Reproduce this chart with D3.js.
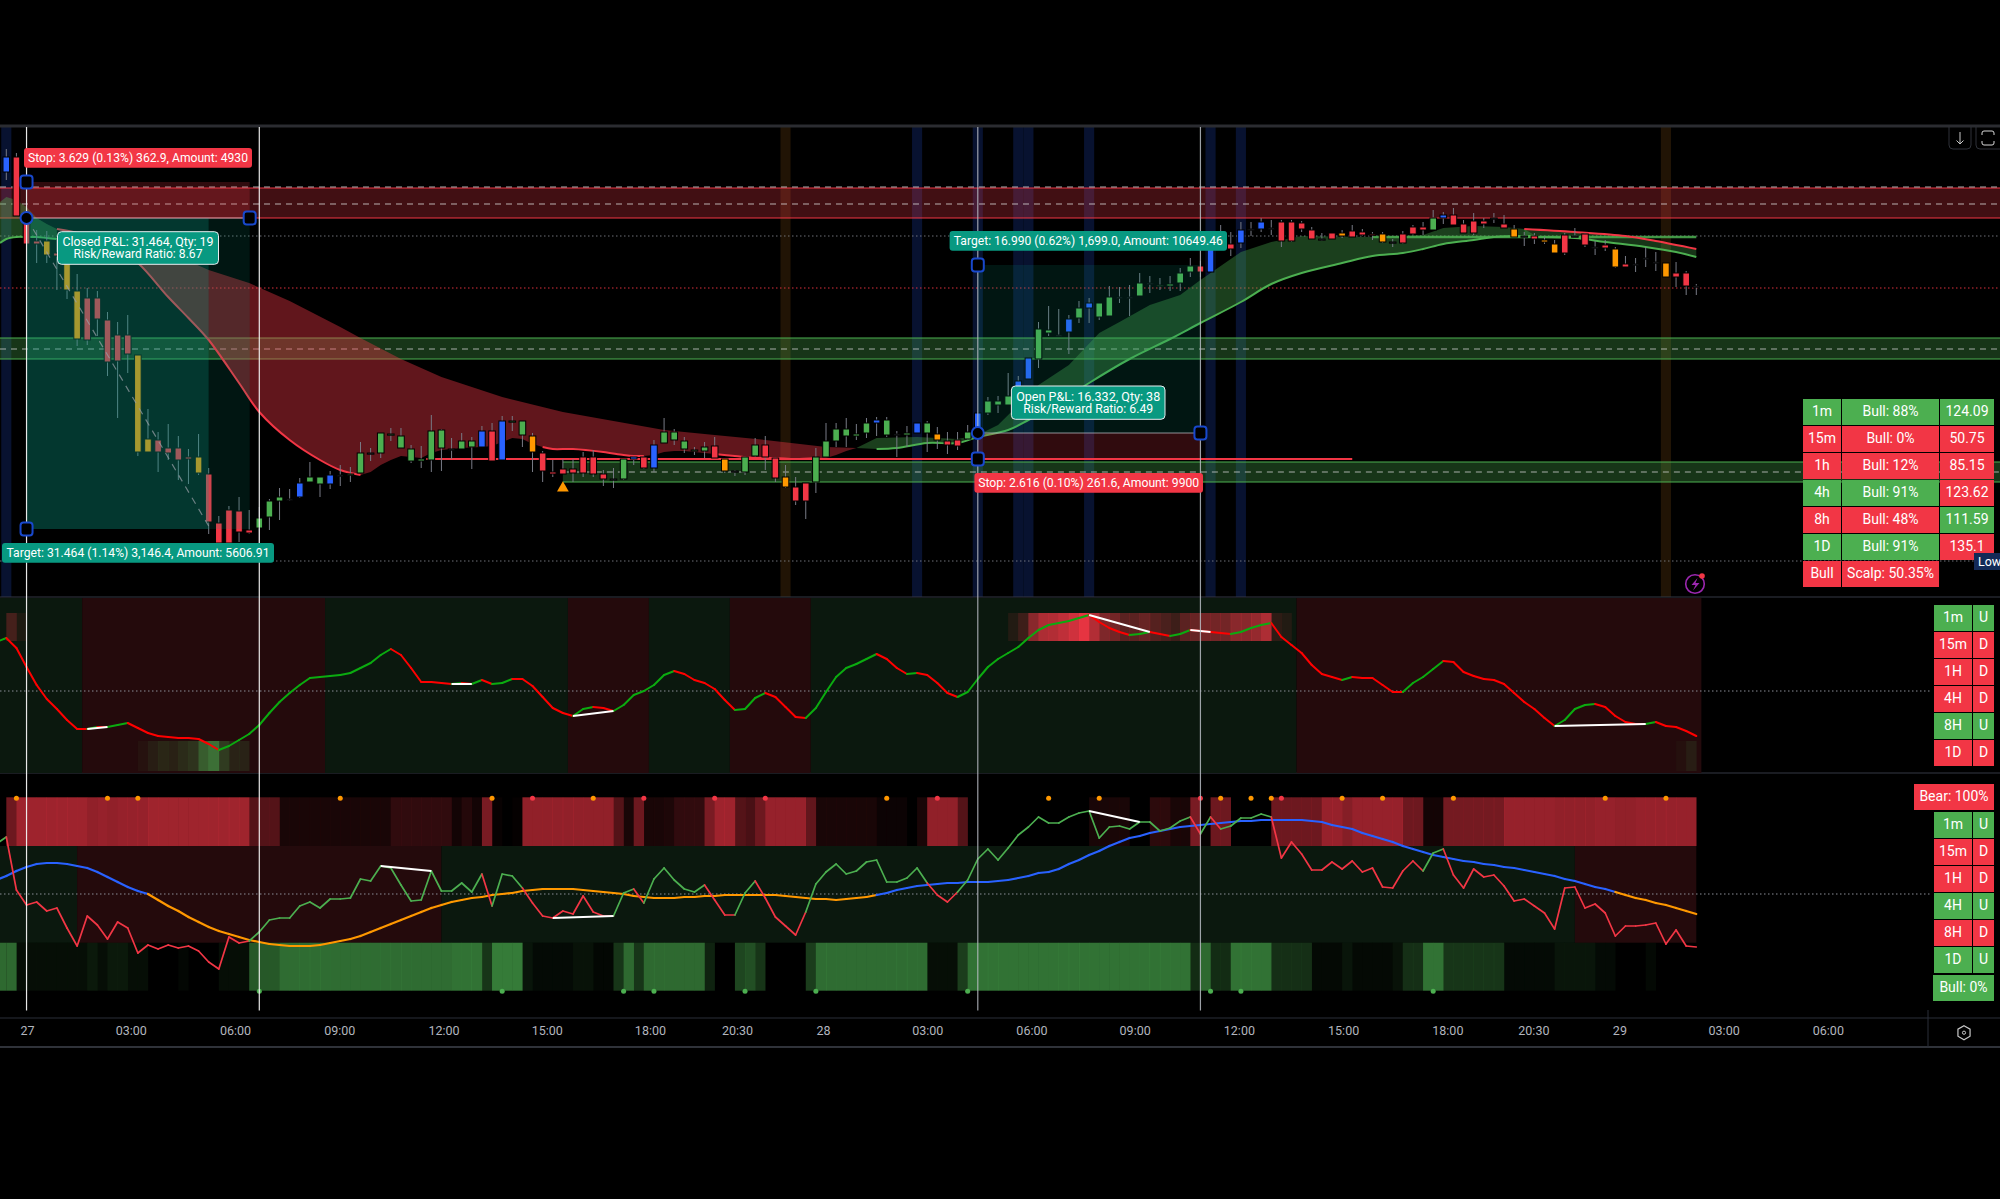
<!DOCTYPE html>
<html><head><meta charset="utf-8">
<style>html,body{margin:0;padding:0;background:#000;overflow:hidden}text{font-family:Roboto,"Liberation Sans",sans-serif}</style>
<script src="https://cdn.jsdelivr.net/npm/d3@7/dist/d3.min.js"></script>
</head><body><svg id="c" width="2000" height="1199"></svg>
<script>
// ---------- candles: one entry per bar ----------
const candleKinds="brrroroorr"+"rrroorrrro"+"rrrrrgggdb"+"ggbdggdggg"+"ggggdggbrb"+"ggorrrrrrr"+"dgbrbggggg"+"rodggrrorr"+"ggggggbgdg"+"bgorrgbggg"+"bbggdbgbgg"+"ddgdggggrb"+"rrbdbdrrrr"+"drorrrodrr"+"rgbrrrrdro"+"droordrdro"+"rdddorrd";
const candleHigh=[2785.1,2784.7,2778.4,2777,2776.9,2776,2775,2772.6,2771.2,2770.9,2768.8,2767.8,2768.5,2764.5,2759.1,2756.8,2757.6,2756.4,2755.1,2756.6,2753.2,2748.4,2749.4,2750.3,2749,2749.3,2750.1,2751.2,2751.1,2752.2,2753.8,2752.3,2752.9,2753.5,2753.3,2755.8,2755.2,2756.7,2757.2,2757.2,2755.5,2755.4,2758.5,2757.1,2756.2,2756.7,2756.3,2757.4,2757.7,2758.4,2758.4,2757.9,2756.7,2754.9,2754,2754.1,2754.1,2754.8,2755,2753,2753.2,2754.1,2754.4,2754.4,2756,2758.2,2757.1,2756.3,2755.3,2755.8,2756.3,2754.1,2753,2754.4,2756.2,2756.4,2754.3,2753.5,2752.3,2751.7,2755.2,2757.7,2757.7,2758.2,2757.6,2758.2,2758.3,2758.3,2756.9,2757.4,2757.7,2757.9,2757.3,2756.8,2756.8,2757.5,2758.7,2760.3,2760.4,2762.7,2762.4,2764.2,2767.8,2769.4,2769.1,2768.5,2769.9,2770.2,2769.7,2771.4,2771.3,2771.5,2772.7,2772.4,2772.2,2772.4,2773.2,2774.2,2773.9,2775.2,2777.5,2776.8,2777.8,2777.8,2778.2,2778,2778,2778,2777.9,2777.3,2776.7,2776.7,2777,2777.5,2777.1,2776.8,2776.8,2776.1,2776.9,2777.5,2777.8,2779,2778.8,2779.2,2778,2778.7,2778.2,2778.7,2778.5,2777.5,2776.8,2776.7,2776.3,2776,2776.7,2777.2,2776.7,2775.9,2776,2775.3,2774.4,2774.2,2775.3,2774.8,2773.7,2773.8,2772.9,2771.6];
const candleBodyTop=[2784.3,2784.3,2778.4,2775.9,2775.9,2774.7,2774.2,2770.9,2770.2,2770.2,2768,2766.5,2766.5,2764.5,2756.1,2756,2755.2,2755.2,2754.3,2754.3,2752.6,2747.7,2749,2748.9,2747,2748.2,2749.9,2750.3,2750.1,2751.7,2752.3,2752.3,2752.5,2752.5,2752.6,2754.7,2754.7,2756.7,2756.6,2756.4,2755.1,2754.1,2756.9,2757,2755.1,2755.9,2755.9,2756.9,2756.9,2757.9,2757.9,2757.9,2756.4,2754.7,2752.8,2753.1,2753.1,2754.3,2754.3,2752.6,2752.1,2754.1,2754.3,2754.3,2755.5,2756.8,2756.8,2755.9,2755,2755.3,2755.4,2754.1,2752.9,2754.3,2755.5,2755.5,2754.2,2752.3,2751.3,2751.7,2754.3,2755.9,2757.1,2757.1,2756.6,2757.7,2758,2758,2756.6,2756.7,2757.7,2757.7,2756.6,2755.9,2756,2756.8,2758.7,2759.9,2759.9,2760.4,2761.9,2764.2,2767.1,2767,2766.5,2768.1,2769.2,2769.7,2769.7,2770.3,2770.3,2770.3,2771.7,2771.7,2771.5,2771.6,2772.7,2773.4,2773.4,2775.1,2776.8,2775.6,2777,2777.1,2777.8,2777.2,2777.8,2777.8,2777.7,2777,2776.1,2776.7,2776.7,2776.9,2776.8,2776.6,2776.6,2775.8,2776.6,2777.3,2777.3,2778.2,2778.5,2778.5,2777.6,2777.9,2777.9,2778.2,2777.6,2777.1,2776.4,2776.4,2776,2775.6,2776.5,2776.4,2776.6,2775.3,2775.5,2775.1,2773.6,2773.6,2774.2,2773.8,2773.7,2772.7,2772.7,2771.4];
const candleBodyBottom=[2782.8,2778.4,2775.6,2775.6,2774.5,2774.4,2771,2766.1,2766,2768.1,2763.8,2763.9,2764.6,2754.8,2754.8,2754.8,2754.7,2754,2754.1,2752.7,2747.8,2745.7,2745.7,2746.8,2746.7,2747.2,2748.3,2749.9,2750,2750.3,2751.8,2751.6,2751.6,2752.5,2752.5,2752.7,2754.7,2754.7,2756.5,2755.2,2753.9,2753.9,2754,2755.2,2755,2755.1,2755.3,2755.3,2753.9,2754,2757.8,2756.5,2754.8,2752.9,2752.6,2752.6,2752.7,2752.7,2752.6,2752.1,2752,2752.1,2754.1,2753.2,2753.2,2755.7,2756,2755.1,2754.9,2754.9,2754.2,2752.9,2752.8,2752.8,2754.4,2754.3,2752.2,2751.3,2749.9,2749.9,2751.8,2754.3,2755.9,2756.4,2756.4,2756.7,2757.7,2756.5,2756.5,2756.5,2756.7,2756.7,2756,2755.5,2755.4,2756.1,2756.8,2758.7,2759.5,2759.5,2760.4,2762.1,2764.1,2766.7,2766.4,2766.8,2768.2,2769.2,2768.3,2768.4,2770.2,2770.2,2770.4,2771.6,2771.4,2771.4,2771.7,2772.8,2772.8,2772.8,2776,2775.1,2775.7,2777,2777.1,2777.1,2775.9,2775.9,2777.1,2776.1,2776,2776.1,2776.4,2776.3,2776.5,2776.5,2775.8,2775.7,2775.7,2776.6,2777,2777,2778.2,2777.5,2776.7,2776.7,2777.6,2778.1,2777.2,2776.3,2776.3,2776.1,2775.8,2774.7,2774.7,2776.3,2775.5,2775.2,2775.2,2773.3,2773.3,2773.5,2774.1,2773.7,2772.3,2772.3,2771.4,2771.3];
const candleLow=[2782,2778.4,2775,2773.7,2773.7,2771,2770.1,2765.4,2765.5,2766.4,2762.4,2758.2,2762.7,2754.4,2754.8,2752.8,2754,2752,2751.6,2752.5,2746.6,2745.5,2745.5,2745.8,2746.6,2745.7,2747,2748,2749.9,2750.2,2751.8,2750.3,2751.1,2751.4,2751.8,2752.7,2753.9,2754.2,2755.9,2755.2,2753.7,2753.2,2752.8,2752.9,2754.1,2755.1,2753.1,2755.3,2753.9,2754,2756.9,2755.3,2752.8,2751.8,2752.3,2752.6,2751.8,2752.3,2752.3,2751.4,2751.2,2752,2753.5,2753.1,2752.8,2755.7,2755.5,2754.7,2754.5,2754.2,2754.2,2752.7,2752.4,2752.5,2754.3,2753,2751.8,2751.2,2749.5,2748.1,2750.7,2754.3,2755.3,2755.3,2756,2756.2,2756.4,2756.3,2754.3,2755.3,2756.7,2754.8,2755.1,2754.6,2755,2756,2756.7,2758.5,2758.7,2759.5,2759.5,2762.1,2763.2,2766.4,2766.4,2764.6,2767.7,2767.7,2768,2768.4,2769.7,2768.4,2770.4,2770.7,2771,2770.9,2770.9,2772.3,2772.3,2772.8,2775,2774.4,2775.2,2776.4,2776.8,2776.5,2775.3,2775.8,2776.8,2776.1,2775.9,2776.1,2776.2,2776.3,2776.4,2776,2775.7,2775.3,2775.6,2776.5,2776.5,2777,2777.6,2777.5,2776.7,2776.5,2777.2,2777.7,2777.2,2776.3,2775.4,2775.6,2775.6,2774.7,2774.5,2776.2,2775.3,2774.5,2774.9,2773.2,2773.3,2772.8,2773.3,2772.9,2772.3,2771.3,2770.5,2770.5];
// ---------- ribbons ----------
const earlyTopBars=[-0.62,0,1,2,3,4,5],earlyTop=[2779.8,2780.3,2780,2779.3,2778.2,2777.6,2777.1];
const earlyLowBars=[-0.62,0,1,2,3,4,5],earlyLow=[2775.7,2776.1,2776.3,2776.3,2776.3,2776.2,2776.1];
const redTopBars=[5,8,12,16,20,24,28,33,35,39,43,49,55,60,65,70,75,81,84];
const redTop=[2777.1,2776.7,2775.9,2774.8,2773,2771.7,2769.9,2767.3,2766.2,2764.1,2762.3,2760.3,2758.8,2757.9,2757,2756.5,2756,2755.3,2755.2];
const redLowBars=[5,7,9,11,13,16,18,20,23,25,28,31,33,35,36,37,38,39,40,41,42,43,45,47,48,49,50,51,52,53,54,56,59,61,62,63,64,65,66,67,68,70,72,74,76,78,80,81,82,83,84];
const redLow=[2777.1,2776.7,2776,2775,2773.7,2770.3,2768.2,2766,2761.7,2758.8,2756,2754,2753,2752.5,2752.8,2753.5,2754,2754.4,2754.3,2754.2,2754.7,2755,2755.2,2755.3,2755.4,2755.8,2756.2,2756.1,2755.6,2755.3,2755.1,2755.1,2754.8,2754.5,2754.4,2754.4,2754.5,2754.8,2754.9,2754.9,2754.8,2754.6,2754.4,2754.2,2754.2,2754.1,2754.2,2754.2,2754.5,2754.9,2755.2];
const redStrokeRanges=[[5,35],[53,63],[70,80]];
const greenTopBars=[84,86,90,94,96,98,100,102,105,108,110,113,116,118,122,125,128,135,140,142,145,148,150,151];
const greenTop=[2755.2,2756.2,2756.3,2756.1,2756.5,2757.5,2759.5,2761.5,2763.5,2766.7,2767.8,2769.5,2770.5,2772,2774.8,2775.8,2776.4,2776.3,2776.5,2777.2,2777.4,2777.3,2777.1,2776.5];
const greenLowBars=[84,86,88,91,94,96,99,101,104,107,111,115,118,122,125,128,132,135,138,140,142,145,147,151];
const greenLow=[2755.2,2755.1,2755.2,2755.7,2755.7,2756.3,2757,2758,2759.7,2761.7,2764.1,2766.1,2767.7,2769.8,2771.6,2772.7,2773.7,2774.4,2774.7,2775.1,2775.6,2776,2776.3,2776.4];
const tailTopBars=[150,155,160,163,167],tailTop=[2777.1,2776.8,2776.4,2775.9,2775.1];
const tailLowBars=[150,155,158,162,165,167],tailLow=[2776.3,2776.2,2775.8,2775.3,2774.8,2774.3];
// ---------- session columns ----------
const blueSessionBars=[0,90,96,100,101,107,119,122];
const orangeSessionBars=[77,164];
// ---------- price levels ----------
const redZone={top:2781.2,bottom:2778.2,dashes:[2781.3,2779.6]};
const greenZone={top:2766.2,bottom:2764.1,dash:2765.1};
const lowZone={top:2753.8,bottom:2751.8,dash:2752.8,startBar:55};
const stopLevel={price:2754.1,from:41.5,to:133};
const flatLevel={price:2776.3,from:135,to:167};
const dottedGray=[2776.4,2743.9],dottedRed=[2771.2];
// ---------- RSI pane ----------
const rsi=[76.5,71.5,62,53,46,41,35.5,31,31,32,32,33,34,31.5,29,27.5,27,26.5,26.5,26,23.5,20.5,22.5,25.5,28.5,33,39,44.5,49,53,56.5,57,57.5,58,59,61.5,64,68,71,68,61.5,54.5,54.5,54,53.5,54,53.5,55.5,53.5,54,56,56,52.5,47,41.5,39,37.5,41,42,41.5,40,43,48,50,53,58,60,58.5,55.5,54,51,45.5,40.5,41,46.5,49,47,42,37,36.5,41.5,49.5,57,61.5,63.5,66,68.5,66,61.5,58.5,59,58,54,49,47,49.5,56,62,66,69,72,76.5,80.5,83,84,85,86.5,88,84.5,81.5,79.5,78,78.5,79.5,78.5,77.5,78.5,80.5,80,79.5,79,78.5,79.5,81.5,83,84,77,73,69,63,58.5,57,55.5,57,56.5,56.5,53,49.5,49.5,54,57,61,65,64.5,59.5,57.5,56,55.5,53.5,49,44.5,41,36.5,32.5,35.5,41,43,43.5,42,37.5,34.5,33.5,33.5,34.5,32.5,32,30,27.5];
const rsiLead=74.5;
const rsiFlips=[8,32,56,64,72,80,128,168];           // regime alternates green, red, ...
const rsiDivergences=[[8,10],[44,46],[56,60],[107,113],[117,119],[153,162]];
const heatLowBars=[13,14,15,16,17,18,19,20,21,22,23,24],heatLow=[5,12,17,14,20,25,50,62,30,15,15,0];
const heatTopStart=99;
const heatTop=[10,22,55,70,72,78,85,95,72,50,45,35,35,40,32,28,22,35,40,45,45,45,55,55,60,70,15,10];
const heatEdgeBars=[0,1],heatEdge=[25,8];
const heatTailBars=[165,166],heatTail=[4,12];
// ---------- wave pane ----------
const wave=[28.5,2,-5.5,-4,-8.5,-7,-17,-26,-11,-15.5,-22.5,-14,-17,-29.5,-25.5,-27.5,-25.5,-27,-26,-28.5,-34,-37.5,-21.5,-24.5,-23.5,-19,-13,-12,-12,-6,-4,-7,-2.5,-2.5,-2,7.5,6.5,14,13,4.5,-3.5,-3,11.5,1.5,1.5,5.5,1,10,-6,10,9,3,-4.5,-11,-12,-8.5,-10,-1,-9,-11,-11,0.5,2.5,-4.5,7.5,13,7,2.5,1,4.5,-3,-10.5,-10.5,0.5,6.5,-2,-11.5,-16,-20.5,-9,5,11,15,10,11.5,16,17,6,6,8,13,5.5,-0.5,-4,1,7,17.5,22.5,17,23,29.5,33.5,38.5,35.5,35.5,38.5,40.5,41.5,28,33.5,34,32.5,36,36,31.5,33,36.5,38.5,30,38.5,32.5,34,38,38,40,38.5,18,26,20,12,12,16,12.5,16.5,11,13,3.5,3,11.5,16.5,11.5,20.5,22.5,9.5,3,12.5,8.5,9.5,4,-3.5,-2.5,-6,-9.5,-17.5,3,3.5,-7,-5,-9.5,-21,-16,-16,-15.5,-14.5,-25,-18,-26,-26.5];
const waveLead=25;
const waveFlips=[0,24,47,48,51,60,62,63,69,72,74,79,91,94,117,118,119,120,125,140,142]; // starts red, alternates
const waveSlow=[9,11.5,13.5,15,15.5,15.5,15,14,13,11,8.5,6,3.5,1.5,0,-3,-6,-8.5,-11.5,-14,-16.5,-18.5,-20,-21.5,-23,-24,-25,-25.5,-26,-26,-26,-25.5,-24.5,-23.5,-22.5,-21,-19,-17,-15,-13,-11,-9,-7,-5.5,-4,-3,-2,-1.5,-0.5,0,0.5,1.5,2,2.5,2.5,2.5,2.5,2,1.5,1,0.5,0,-1,-1.5,-2,-2,-2,-1.5,-1.5,-1,-1,-0.5,-0.5,-0.5,-0.5,-0.5,-0.5,-1,-1.5,-2,-2.5,-2.5,-3,-2.5,-2,-1.5,-0.5,0.5,2,3,4,4.5,5,5.5,5.5,6,6,6,6.5,7,8,9,10.5,11,12.5,15,17,19.5,21.5,24,26,28,29,30.5,31.5,32.5,33.5,34,34.5,35,35.5,36,36.5,36.5,37,37,37,37,37,36.5,36,34.5,33.5,32.5,30.5,29,27.5,26,24,22.5,21,19.5,18.5,17.5,16.5,16,15,14.5,13.5,13,12,11,10,9,7.5,6.5,5,3.5,2.5,1,-0.5,-2,-3,-4.5,-5.5,-7,-8.5,-10];
const slowLead=7;
const slowFlips=[14,86,159];                         // starts blue, alternates
const waveBandFlips=[7,43,155,167];                  // starts green, alternates
const waveDivergences=[[37,42],[54,60],[107,112]];
const bearHeat=[45,65,65,65,65,65,65,65,60,62,60,62,62,62,66,66,66,66,66,66,66,66,66,66,35,35,35,10,10,10,10,10,10,10,10,10,10,10,20,20,20,20,20,20,8,15,8,50,3,0,2,60,60,60,60,60,60,60,60,60,35,10,45,10,10,12,20,20,20,50,65,65,35,30,45,62,62,62,62,40,10,10,10,10,10,10,5,5,5,0,10,60,60,60,35,0,0,0,0,0,0,0,0,0,0,0,0,10,10,10,10,0,0,18,18,10,10,50,2,45,45,0,0,0,0,45,45,45,45,45,62,62,55,62,62,62,62,62,45,45,8,8,48,48,48,48,48,48,62,62,62,62,62,60,60,60,60,62,62,60,60,62,62,62,62,62,62,62];
const bullHeatLead=60;
const bullHeat=[60,8,8,8,8,8,8,8,14,8,14,14,8,8,0,0,0,4,0,0,0,8,8,8,50,50,50,62,62,62,62,62,62,62,62,62,62,62,62,62,62,62,62,62,65,65,65,30,70,70,70,12,6,6,6,6,10,10,4,4,30,60,30,60,60,60,60,60,60,20,0,0,40,45,30,0,0,0,0,35,62,62,62,62,62,62,62,62,62,62,62,8,8,8,35,65,65,65,65,65,65,65,65,65,65,65,65,65,65,65,65,65,65,65,65,65,65,25,60,25,25,65,65,65,65,27,27,27,27,5,5,5,12,5,5,5,5,10,27,27,65,65,30,30,30,30,30,30,6,6,6,6,6,12,12,12,12,6,6,0,0,0,5,0,0,0,0,0];
const orangeDotBars=[1,10,13,33,48,58,87,103,108,120,123,125,132,136,143,158,164];
const redDotBars=[52,63,70,75,92,118,126];
const greenDotBars=[25,49,61,64,73,80,95,119,122,141];
// ---------- positions ----------
const positionBars={first:[2,25],firstMid:20,second:[96,118],firstRight:24.05};
const firstTrade={stop:2781.8,entry:2778.2,target:2747.1};
const secondTrade={stop:2754.1,entry:2756.7,target:2773.5};
const markerLines=[2,25,96,118];
const tradeArrow={bars:[2,20],prices:[2778.2,2747.4]};
const triangleBar=55,trianglePrice=2751.2;
// ---------- axis ----------
const tickBars=[2.05,12.3,22.6,32.9,43.2,53.4,63.6,72.2,80.7,91,101.3,111.5,121.8,132.1,142.4,150.9,159.4,169.7,180];
const tickLabels=["27","03:00","06:00","09:00","12:00","15:00","18:00","20:30","28","03:00","06:00","09:00","12:00","15:00","18:00","20:30","29","03:00","06:00"];
// ---------- tables ----------
const summaryRows=[["1m","Bull: 88%","124.09"],["15m","Bull: 0%","50.75"],["1h","Bull: 12%","85.15"],["4h","Bull: 91%","123.62"],["8h","Bull: 48%","111.59"],["1D","Bull: 91%","135.1"],["Bull","Scalp: 50.35%",""]];
const summaryColors=["ggg","rrr","rrr","ggr","rrg","ggr","rr-"];
const rsiTable=[["1m","U"],["15m","D"],["1H","D"],["4H","D"],["8H","U"],["1D","D"]];
const waveTable=[["1m","U"],["15m","D"],["1H","D"],["4H","U"],["8H","D"],["1D","U"]];

// ---------- drawing ----------
const GREEN="#4caf50",RED="#f23645",BLUE="#2962ff",ORANGE="#ff9800",TEAL="#089981";
const kindColor={g:GREEN,r:RED,b:BLUE,o:ORANGE,d:"#555964"};
const W=2000;
const svg=d3.select("#c");
svg.append("rect").attr("width",W).attr("height",1199).attr("fill","#000");
const x=d3.scaleLinear().domain([0,167]).range([6.3,1696.3]);
const bw=10.12;
const y=d3.scaleLinear().domain([2787.3,2740.3]).range([127,597]);
const yR=d3.scaleLinear().domain([97,9]).range([597,773]);
const yW=d3.scaleLinear().domain([60.5,-58]).range([773,1010]);

// session columns
const gs=svg.append("g");
gs.selectAll(".bs").data(blueSessionBars).join("rect").attr("class","bs").attr("x",d=>x(d)-bw/2).attr("width",bw).attr("y",127).attr("height",470).attr("fill","#081230");
gs.selectAll(".os").data(orangeSessionBars).join("rect").attr("class","os").attr("x",d=>x(d)-bw/2).attr("width",bw).attr("y",127).attr("height",470).attr("fill","#211405");

// horizontal zones
const hg=svg.append("g");
function hline(p,stroke,dash,w,op,x0,x1){hg.append("line").attr("x1",x0==null?0:x0).attr("x2",x1==null?W:x1).attr("y1",y(p)).attr("y2",y(p)).attr("stroke",stroke).attr("stroke-width",w||1).attr("stroke-dasharray",dash||null).attr("opacity",op==null?1:op);}
dottedGray.forEach(p=>hline(p,"#8a8d96","1.5 2.5",1,.8));
dottedRed.forEach(p=>hline(p,RED,"1.5 2.5",1,.9));
hg.append("rect").attr("x",0).attr("width",W).attr("y",y(redZone.top)).attr("height",y(redZone.bottom)-y(redZone.top)).attr("fill",RED).attr("opacity",.27);
hg.append("rect").attr("x",0).attr("width",W).attr("y",y(greenZone.top)).attr("height",y(greenZone.bottom)-y(greenZone.top)).attr("fill",GREEN).attr("opacity",.3);
hg.append("rect").attr("x",x(lowZone.startBar)).attr("width",W-x(lowZone.startBar)).attr("y",y(lowZone.top)).attr("height",y(lowZone.bottom)-y(lowZone.top)).attr("fill",GREEN).attr("opacity",.3);
hline(redZone.top,RED,null,1.2);hline(redZone.bottom,RED,null,1.2);
redZone.dashes.forEach(p=>hline(p,"#d8d8d8","6 5",1,.8));
hline(greenZone.top,GREEN,null,1.2);hline(greenZone.bottom,GREEN,null,1.2);hline(greenZone.dash,"#d8d8d8","6 5",1,.75);
hline(lowZone.top,GREEN,null,1.2,1,x(lowZone.startBar));hline(lowZone.bottom,GREEN,null,1.2,1,x(lowZone.startBar));hline(lowZone.dash,"#d8d8d8","6 5",1,.75,x(lowZone.startBar));

// ribbons
const pts=(b,v)=>b.map((d,i)=>[d,v[i]]);
const ln=d3.line().x(d=>x(d[0])).y(d=>y(d[1])).curve(d3.curveCatmullRom.alpha(.5));
const band=(t,l)=>ln.curve(d3.curveLinear)(t.concat(l.slice().reverse()))+"Z";
const rg=svg.append("g");
function ribbon(tb,t,lb,l,col,op){rg.append("path").attr("d",band(pts(tb,t),pts(lb,l))).attr("fill",col).attr("opacity",op);}
ribbon(earlyTopBars,earlyTop,earlyLowBars,earlyLow,GREEN,.38);
ribbon(redTopBars,redTop,redLowBars,redLow,RED,.4);
ribbon(greenTopBars,greenTop,greenLowBars,greenLow,GREEN,.36);
ribbon(tailTopBars,tailTop,tailLowBars,tailLow,GREEN,.3);
ln.curve(d3.curveCatmullRom.alpha(.5));
function stroke(p,col,w,op){rg.append("path").attr("d",ln(p)).attr("fill","none").attr("stroke",col).attr("stroke-width",w).attr("opacity",op==null?1:op);}
stroke(pts(earlyLowBars,earlyLow),GREEN,2);
redStrokeRanges.forEach(r=>stroke(pts(redLowBars,redLow).filter(d=>d[0]>=r[0]&&d[0]<=r[1]),RED,2));
stroke(pts(greenLowBars,greenLow).filter(d=>d[0]>=86),GREEN,2);
rg.append("line").attr("x1",x(stopLevel.from)).attr("x2",x(stopLevel.to)).attr("y1",y(stopLevel.price)).attr("y2",y(stopLevel.price)).attr("stroke",RED).attr("stroke-width",2.2);
rg.append("line").attr("x1",x(flatLevel.from)).attr("x2",x(flatLevel.to)).attr("y1",y(flatLevel.price)).attr("y2",y(flatLevel.price)).attr("stroke",GREEN).attr("stroke-width",2.4).attr("opacity",.85);
stroke(pts(tailLowBars,tailLow),GREEN,2);
stroke(pts(tailTopBars,tailTop),RED,2);

// candles
const bars=d3.range(candleHigh.length);
const cg=svg.append("g");
cg.selectAll("line").data(bars).join("line").attr("x1",i=>x(i)).attr("x2",i=>x(i)).attr("y1",i=>y(candleHigh[i])).attr("y2",i=>y(candleLow[i])).attr("stroke","#787b86").attr("stroke-width",1);
cg.selectAll("rect").data(bars).join("rect").attr("x",i=>x(i)-3.3).attr("width",6.6)
  .attr("y",i=>y(candleBodyTop[i])).attr("height",i=>Math.max(1.2,y(candleBodyBottom[i])-y(candleBodyTop[i])))
  .attr("fill",i=>kindColor[candleKinds[i]]).attr("stroke","#000").attr("stroke-width",1);

// triangle
svg.append("path").attr("d",d3.symbol().type(d3.symbolTriangle).size(60)()).attr("transform",`translate(${x(triangleBar)},${y(trianglePrice)})`).attr("fill",ORANGE);

// position boxes
const bg=svg.append("g");
function box(a,b,t,l,col,op){bg.append("rect").attr("x",x(a)).attr("width",x(b)-x(a)).attr("y",y(t)).attr("height",y(l)-y(t)).attr("fill",col).attr("opacity",op);}
const [f0,f1]=positionBars.first;const fEnd=positionBars.firstRight;
box(f0,fEnd,firstTrade.stop,firstTrade.entry,RED,.2);
box(f0,positionBars.firstMid,firstTrade.entry,firstTrade.target,TEAL,.36);
box(positionBars.firstMid,fEnd,firstTrade.entry,firstTrade.target,TEAL,.14);
const [s0,s1]=positionBars.second;
box(s0,s1,secondTrade.target,secondTrade.entry,TEAL,.14);
box(s0,s1,secondTrade.entry,secondTrade.stop,RED,.2);
[[f0,fEnd,firstTrade.entry],[s0,s1,secondTrade.entry]].forEach(d=>bg.append("line").attr("x1",x(d[0])).attr("x2",x(d[1])).attr("y1",y(d[2])).attr("y2",y(d[2])).attr("stroke","#b9bcc4").attr("stroke-width",1.2).attr("opacity",.75));
bg.append("line").attr("x1",x(tradeArrow.bars[0])).attr("x2",x(tradeArrow.bars[1])).attr("y1",y(tradeArrow.prices[0])).attr("y2",y(tradeArrow.prices[1])).attr("stroke","#9aa0a8").attr("stroke-dasharray","7 6").attr("stroke-width",1.2).attr("opacity",.7);

// pane separators
[[126,3,"#2b2c31"],[597,1,"#343844"],[773,1,"#343844"],[1018,1,"#2a2e39"],[1047,2,"#2f3239"]].forEach(d=>svg.append("line").attr("x1",0).attr("x2",W).attr("y1",d[0]).attr("y2",d[0]).attr("stroke",d[2]).attr("stroke-width",d[1]));
svg.append("line").attr("x1",1928).attr("x2",1928).attr("y1",1010).attr("y2",1047).attr("stroke","#2a2e39");

// RSI pane
const rp=svg.append("g");
const regimes=(flips,start)=>flips.map((f,i)=>({a:i?flips[i-1]:null,b:f,c:(i%2===0)===(start==="g")?"#0b180e":"#240a0c"}));
regimes(rsiFlips,"g").forEach(r=>{const a=r.a==null?0:x(r.a)-bw/2,b=x(r.b)-bw/2;rp.append("rect").attr("x",a).attr("width",b-a).attr("y",598).attr("height",175).attr("fill",r.c);});
const heatCols=(g,bs,vals,col,t,b)=>g.selectAll(null).data(bs).join("rect").attr("x",d=>x(d)).attr("width",bw+.3).attr("y",t).attr("height",b-t).attr("fill",col).attr("opacity",(d,i)=>vals[i]/100);
heatCols(rp,heatLowBars,heatLow,GREEN,yR(25),yR(10));
heatCols(rp,heatTop.map((d,i)=>heatTopStart+i),heatTop,RED,yR(89),yR(75));
heatCols(rp,heatEdgeBars,heatEdge,RED,yR(89),yR(75));
heatCols(rp,heatTailBars,heatTail,GREEN,yR(25),yR(10));
rp.append("line").attr("x1",0).attr("x2",1930).attr("y1",yR(50)).attr("y2",yR(50)).attr("stroke","#8a8d96").attr("stroke-dasharray","1.5 2.5");
const rsiSeries=[rsiLead].concat(rsi);
rp.selectAll(null).data(d3.range(rsiSeries.length-1)).join("line").attr("x1",i=>x(i-1)).attr("x2",i=>x(i)).attr("y1",i=>yR(rsiSeries[i])).attr("y2",i=>yR(rsiSeries[i+1])).attr("stroke",i=>rsiSeries[i+1]>rsiSeries[i]?"#0bab10":"#ff0000").attr("stroke-width",2).attr("stroke-linecap","round");
rp.selectAll(null).data(rsiDivergences).join("line").attr("x1",d=>x(d[0])).attr("x2",d=>x(d[1])).attr("y1",d=>yR(rsi[d[0]])).attr("y2",d=>yR(rsi[d[1]])).attr("stroke","#fff").attr("stroke-width",2);

// wave pane
const wp=svg.append("g");
const waveBandTop=846,waveBandBottom=942.7;
regimes(waveBandFlips,"g").forEach(r=>{const a=r.a==null?0:x(r.a),b=x(r.b);wp.append("rect").attr("x",a).attr("width",b-a).attr("y",waveBandTop).attr("height",waveBandBottom-waveBandTop).attr("fill",r.c);});
const heatRow=(vals,col,t,b)=>wp.selectAll(null).data(vals.map((v,i)=>[i,v]).slice(0,167)).join("rect").attr("x",d=>x(d[0])).attr("width",bw+.2).attr("y",t).attr("height",b-t).attr("fill",col).attr("opacity",d=>d[1]/100);
heatRow(bearHeat,RED,797.3,waveBandTop);
heatRow(bullHeat,GREEN,waveBandBottom,990.7);
wp.append("rect").attr("x",0).attr("width",x(0)).attr("y",waveBandBottom).attr("height",990.7-waveBandBottom).attr("fill",GREEN).attr("opacity",bullHeatLead/100);
wp.append("line").attr("x1",0).attr("x2",1930).attr("y1",yW(0)).attr("y2",yW(0)).attr("stroke","#8a8d96").attr("stroke-dasharray","1.5 2.5");
const stateAt=(flips,i)=>{let n=0;flips.forEach(f=>{if(i>=f)n++;});return n;};
const slowSeries=[slowLead].concat(waveSlow);
wp.selectAll(null).data(d3.range(slowSeries.length-1)).join("line").attr("x1",i=>x(i-1)).attr("x2",i=>x(i)).attr("y1",i=>yW(slowSeries[i])).attr("y2",i=>yW(slowSeries[i+1])).attr("stroke",i=>stateAt(slowFlips,i-1)%2===0?BLUE:ORANGE).attr("stroke-width",2.2).attr("stroke-linecap","round");
const waveSeries=[waveLead].concat(wave);
wp.selectAll(null).data(d3.range(waveSeries.length-1)).join("line").attr("x1",i=>x(i-1)).attr("x2",i=>x(i)).attr("y1",i=>yW(waveSeries[i])).attr("y2",i=>yW(waveSeries[i+1])).attr("stroke",i=>stateAt(waveFlips,i-1)%2===1?RED:GREEN).attr("stroke-width",1.7).attr("stroke-linecap","round");
wp.selectAll(null).data(waveDivergences).join("line").attr("x1",d=>x(d[0])).attr("x2",d=>x(d[1])).attr("y1",d=>yW(wave[d[0]])).attr("y2",d=>yW(wave[d[1]])).attr("stroke","#fff").attr("stroke-width",2);
const dots=(b,c,cy)=>wp.selectAll(null).data(b).join("circle").attr("cx",d=>x(d)).attr("cy",cy).attr("r",2.5).attr("fill",c);
dots(orangeDotBars,ORANGE,798.3);dots(redDotBars,RED,798.3);dots(greenDotBars,GREEN,991.3);

// marker lines
svg.selectAll(null).data(markerLines).join("line").attr("x1",d=>x(d)).attr("x2",d=>x(d)).attr("y1",127).attr("y2",1010.5).attr("stroke",(d,i)=>i<2?"#f4f4f4":"#b8bcc4").attr("stroke-width",1.2).attr("opacity",(d,i)=>i<2?.95:.85);

// handles
const hand=svg.append("g");
function square(cx,cy){hand.append("rect").attr("x",cx-6).attr("y",cy-6.5).attr("width",12).attr("height",13).attr("rx",3).attr("fill","#000").attr("stroke","#1848cc").attr("stroke-width",2);}
function round(cx,cy){hand.append("circle").attr("cx",cx).attr("cy",cy).attr("r",6).attr("fill","#000").attr("stroke","#1848cc").attr("stroke-width",2);}
square(x(f0),y(firstTrade.stop));round(x(f0),y(firstTrade.entry));square(x(fEnd),y(firstTrade.entry));square(x(f0),y(firstTrade.target));
square(x(s0),y(secondTrade.target));round(x(s0),y(secondTrade.entry));square(x(s1),y(secondTrade.entry));square(x(s0),y(secondTrade.stop));

// labels
function tag(x0,x1,y0,y1,fill,lines,border,fs,widths){
  const g=svg.append("g");
  g.append("rect").attr("x",x0).attr("y",y0).attr("width",x1-x0).attr("height",y1-y0).attr("rx",border?4:3).attr("fill",fill).attr("stroke",border?"#e8ecef":null).attr("stroke-width",border?1:null);
  lines.forEach((t,i)=>{const cy=(y0+y1)/2+(i-(lines.length-1)/2)*12-.5;
    const e=g.append("text").attr("x",(x0+x1)/2).attr("y",cy).attr("text-anchor","middle").attr("dominant-baseline","central").attr("fill","#fff").attr("font-size",fs||13).text(t);
    if(widths&&widths[i])e.attr("textLength",widths[i]).attr("lengthAdjust","spacingAndGlyphs");});
}
tag(24,252,148,167.7,RED,["Stop: 3.629 (0.13%) 362.9, Amount: 4930"],false,13,[220]);
tag(57.5,218.5,231.7,264.3,TEAL,["Closed P&L: 31.464, Qty: 19","Risk/Reward Ratio: 8.67"],true,12.5,[151,129]);
tag(2,274,543,562.7,TEAL,["Target: 31.464 (1.14%) 3,146.4, Amount: 5606.91"],false,13,[263]);
tag(949.6,1227,231,250.7,TEAL,["Target: 16.990 (0.62%) 1,699.0, Amount: 10649.46"],false,13,[269]);
tag(1011.4,1165,386,419.3,TEAL,["Open P&L: 16.332, Qty: 38","Risk/Reward Ratio: 6.49"],true,12.5,[144,130]);
tag(974.4,1203,473,492.7,RED,["Stop: 2.616 (0.10%) 261.6, Amount: 9900"],false,13,[221]);

// tables
const tg=svg.append("g");
function cell(x0,x1,y0,y1,col,t,fs){if(col==="-")return;const c=col==="g"?GREEN:col==="r"?RED:col;
  tg.append("rect").attr("x",x0).attr("y",y0).attr("width",x1-x0).attr("height",y1-y0).attr("fill",c);
  tg.append("text").attr("x",(x0+x1)/2).attr("y",(y0+y1)/2-1).attr("text-anchor","middle").attr("dominant-baseline","central").attr("fill","#fff").attr("font-size",fs||14).text(t);}
summaryRows.forEach((r,i)=>{const y0=399+i*27,y1=y0+26;cell(1803,1841,y0,y1,summaryColors[i][0],r[0]);cell(1842,1939,y0,y1,summaryColors[i][1],r[1]);cell(1940,1994,y0,y1,summaryColors[i][2],r[2]);});
const dirTable=(rows,y00)=>rows.forEach((r,i)=>{const y0=y00+i*27,y1=y0+26,c=r[1]==="U"?"g":"r";cell(1934,1972,y0,y1,c,r[0]);cell(1973,1994,y0,y1,c,r[1]);});
dirTable(rsiTable,605);dirTable(waveTable,812);
cell(1914,1994,784,810,"r","Bear: 100%");cell(1933,1994,975,1001,"g","Bull: 0%");
tg.append("rect").attr("x",1974).attr("y",553).attr("width",26).attr("height",17).attr("fill","#132a57");
tg.append("text").attr("x",1978).attr("y",561).attr("dominant-baseline","central").attr("fill","#fff").attr("font-size",12.5).text("Low");

// axis
const ax=svg.append("g").attr("transform","translate(0,1018)").call(d3.axisBottom(x).tickValues(tickBars).tickFormat((d,i)=>tickLabels[i]).tickSize(0).tickPadding(8));
ax.select(".domain").remove();ax.selectAll("text").attr("fill","#b2b5be").attr("font-size",12.5).style("font-family","Roboto,sans-serif");
ax.selectAll("text").attr("dy","0.72em");

// corner widgets
const wg=svg.append("g").attr("fill","none");
wg.append("path").attr("d","M1949 127V145a4 4 0 0 0 4 4H1967a4 4 0 0 0 4-4V127").attr("stroke","#2e3138");
wg.append("path").attr("d","M1976 127V145a4 4 0 0 0 4 4H2000").attr("stroke","#2e3138");
wg.append("path").attr("d","M1960 132V144M1956.5 140.5L1960 144L1963.5 140.5").attr("stroke","#c8c8c8");
wg.append("path").attr("d","M1982 135V133a2 2 0 0 1 2-2H1992a2 2 0 0 1 2 2V135M1982 141V143a2 2 0 0 0 2 2H1992a2 2 0 0 0 2-2V141").attr("stroke","#d8d8d8");
// settings hexagon
const hexR=7;wg.append("path").attr("d",d3.line()(d3.range(6).map(k=>[1964+hexR*Math.sin(k*Math.PI/3),1032.7-hexR*Math.cos(k*Math.PI/3)]))+"Z").attr("stroke","#c8c8c8").attr("stroke-width",1.2);
wg.append("circle").attr("cx",1964).attr("cy",1032.7).attr("r",1.6).attr("stroke","#c8c8c8");
// alert icon
wg.append("circle").attr("cx",1695).attr("cy",584).attr("r",9.3).attr("stroke","#9c27b0").attr("stroke-width",1.6);
wg.append("path").attr("d","M1697.5 578L1691.5 585H1695.5L1693 590.5L1699.5 583H1695.5Z").attr("fill","#9c27b0");
wg.append("circle").attr("cx",1702).attr("cy",576).attr("r",2.8).attr("fill",RED);
</script></body></html>
